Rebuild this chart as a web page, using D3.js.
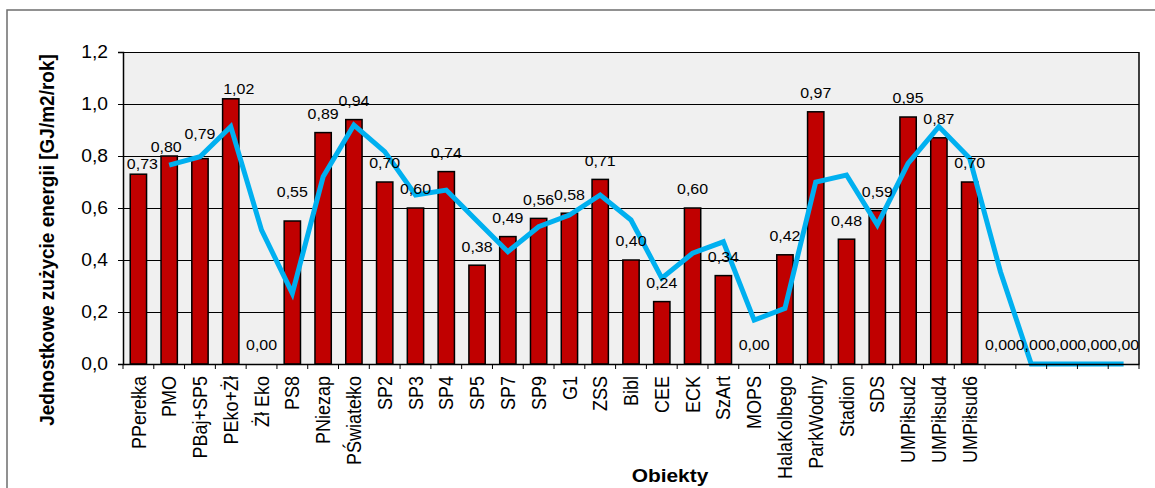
<!DOCTYPE html>
<html>
<head>
<meta charset="utf-8">
<script src="https://cdn.jsdelivr.net/npm/d3@7"></script>
<style>
  body { margin: 0; background: #fff; }
  text { font-family: "Liberation Sans", Arial, sans-serif; fill: #000; }
</style>
</head>
<body>
<div id="chart"></div>
<script>
// categories (5 empty slots at the end, as in the source sheet)
var categories = ["PPerełka", "PMO", "PBaj+SP5", "PEko+Żł", "Żł Eko", "PS8", "PNiezap", "PŚwiatełko",
  "SP2", "SP3", "SP4", "SP5", "SP7", "SP9", "G1", "ZSS", "Bibl", "CEE", "ECK", "SzArt", "MOPS",
  "HalaKolbego", "ParkWodny", "Stadion", "SDS", "UMPiłsud2", "UMPiłsud4", "UMPiłsud6", "", "", "", "", ""];

var barValues = [0.73, 0.80, 0.79, 1.02, 0.00, 0.55, 0.89, 0.94, 0.70, 0.60, 0.74, 0.38, 0.49, 0.56,
  0.58, 0.71, 0.40, 0.24, 0.60, 0.34, 0.00, 0.42, 0.97, 0.48, 0.59, 0.95, 0.87, 0.70, 0, 0, 0, 0, 0];

var lineValues = [null, 0.765, 0.797, 0.913, 0.515, 0.272, 0.72, 0.919, 0.817, 0.65, 0.669, 0.55, 0.432,
  0.528, 0.573, 0.65, 0.554, 0.33, 0.426, 0.47, 0.169, 0.214, 0.70, 0.727, 0.535, 0.772, 0.913, 0.791,
  0.355, 0, 0, 0, 0];

var yTicks = [0, 0.2, 0.4, 0.6, 0.8, 1.0, 1.2];

// labels that were dragged by hand in the original (dx, dy in px)
var labelNudge = {0: [4, 8], 1: [-3, 10], 2: [0, -6], 3: [8, 9], 5: [0, -10]};

var W = 1155, H = 488;
var SX = 1.1; // the source picture is a bit wider than tall
var margin = {top: 52, right: 16, bottom: 124, left: 123},
    width = W - margin.left - margin.right,
    height = H - margin.top - margin.bottom;

var fmt = function(v) { return d3.format(".2f")(v).replace(".", ","); };

var svg = d3.select("#chart").append("svg")
    .attr("width", W)
    .attr("height", H);

// outer chart frame (runs off the right and bottom)
svg.append("rect")
    .attr("x", 7).attr("y", 10)
    .attr("width", W + 20).attr("height", H + 20)
    .attr("fill", "none")
    .attr("stroke", "#6e6e6e")
    .attr("stroke-width", 1.5);

var g = svg.append("g")
    .attr("transform", "translate(" + margin.left + "," + margin.top + ")");

var x = d3.scaleBand()
    .domain(d3.range(categories.length))
    .range([0, width]);

var y = d3.scaleLinear()
    .domain([0, 1.2])
    .range([height, 0]);

// plot background
g.append("rect")
    .attr("width", width).attr("height", height)
    .attr("fill", "#f0f0f0");

// horizontal gridlines
g.append("g")
    .call(d3.axisLeft(y).tickValues(yTicks).tickSize(-width).tickFormat(""))
    .call(function(s) {
      s.select(".domain").remove();
      s.selectAll("line").attr("stroke", "#000").attr("stroke-width", 1);
    });

// right border
g.append("line")
    .attr("x1", width).attr("x2", width)
    .attr("y1", 0).attr("y2", height)
    .attr("stroke", "#000").attr("stroke-width", 1.5);

// bars
var bw = x.bandwidth() * 0.53;
g.selectAll(".bar")
    .data(barValues)
  .enter().append("rect")
    .attr("class", "bar")
    .attr("x", function(d, i) { return x(i) + (x.bandwidth() - bw) / 2; })
    .attr("y", function(d) { return y(d); })
    .attr("width", bw)
    .attr("height", function(d) { return height - y(d); })
    .attr("fill", "#c00000")
    .attr("stroke", "#000")
    .attr("stroke-width", 1.5);

// line
var line = d3.line()
    .defined(function(d) { return d != null; })
    .x(function(d, i) { return x(i) + x.bandwidth() / 2; })
    .y(function(d) { return y(d); });

g.append("path")
    .datum(lineValues)
    .attr("d", line)
    .attr("fill", "none")
    .attr("stroke", "#00b0f0")
    .attr("stroke-width", 5)
    .attr("stroke-linejoin", "miter");

// data labels
g.selectAll(".lbl")
    .data(barValues)
  .enter().append("text")
    .attr("class", "lbl")
    .attr("transform", function(d, i) {
      var nx = labelNudge[i] ? labelNudge[i][0] : 0, ny = labelNudge[i] ? labelNudge[i][1] : 0;
      return "translate(" + (x(i) + x.bandwidth() / 2 + nx) + "," + (y(d) - 19 + ny) + ") scale(1.03,1)";
    })
    .attr("dy", "0.35em")
    .attr("text-anchor", "middle")
    .style("font-size", "15.5px")
    .text(fmt);

// y axis
g.append("g")
    .call(d3.axisLeft(y).tickValues(yTicks).tickSize(5).tickPadding(10)
      .tickFormat(function(d) { return d3.format(".1f")(d).replace(".", ","); }))
    .call(function(s) {
      s.select(".domain").attr("stroke", "#000").attr("stroke-width", 1.5);
      s.selectAll("line").attr("stroke", "#000");
      s.selectAll("text")
          .attr("x", -15 / 1.04)
          .attr("transform", "scale(1.04,1)")
          .style("font-size", "18.5px")
          .style("font-family", "Liberation Sans, Arial, sans-serif");
    });

// x axis
g.append("g")
    .attr("transform", "translate(0," + height + ")")
    .call(d3.axisBottom(x).tickSize(0).tickFormat(function(i) { return categories[i]; }))
    .call(function(s) {
      s.select(".domain").attr("stroke", "#000").attr("stroke-width", 1.5);
      s.selectAll("text")
          .attr("transform", "scale(" + SX + ",1) rotate(-90)")
          .attr("x", -12)
          .attr("y", 0)
          .attr("dy", "0.36em")
          .attr("text-anchor", "end")
          .style("font-size", "18px")
          .style("font-family", "Liberation Sans, Arial, sans-serif");
    });

// x ticks between categories
g.append("g")
    .attr("transform", "translate(0," + height + ")")
    .selectAll("line")
    .data(d3.range(categories.length + 1))
  .enter().append("line")
    .attr("x1", function(i) { return i * x.step(); })
    .attr("x2", function(i) { return i * x.step(); })
    .attr("y1", 0).attr("y2", 5)
    .attr("stroke", "#000");

// axis titles
svg.append("text")
    .attr("transform", "translate(47,240) scale(" + SX + ",1) rotate(-90)")
    .attr("dy", "0.35em")
    .attr("text-anchor", "middle")
    .style("font-size", "19px")
    .style("font-weight", "bold")
    .text("Jednostkowe zużycie energii [GJ/m2/rok]");

svg.append("text")
    .attr("transform", "translate(670,482) scale(" + SX + ",1)")
    .attr("text-anchor", "middle")
    .style("font-size", "19px")
    .style("font-weight", "bold")
    .text("Obiekty");
</script>
</body>
</html>
